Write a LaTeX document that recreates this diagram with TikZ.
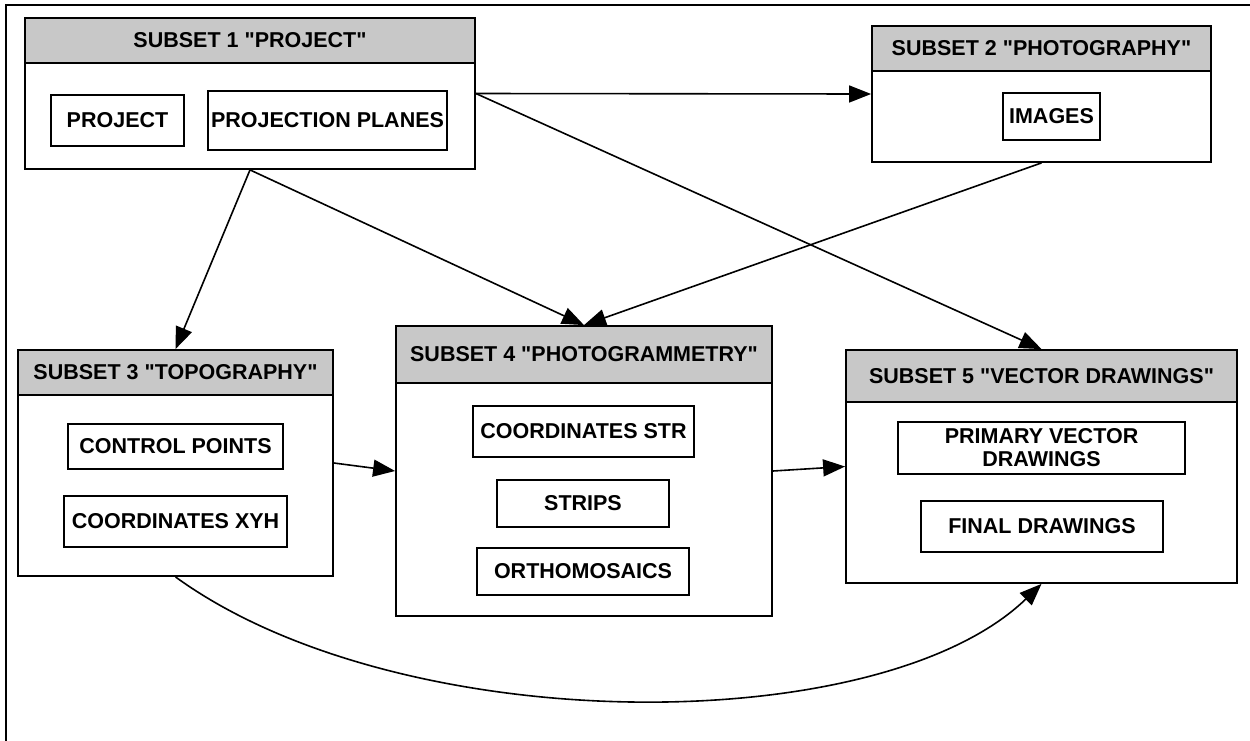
\documentclass[tikz,border=0pt]{standalone}
\usepackage{fontspec}
\setmainfont{Liberation Sans}[Ligatures=TeXOff]
\usetikzlibrary{arrows.meta}
\definecolor{headgray}{RGB}{200,200,200}
\newcommand{\qq}{\symbol{34}}
\begin{document}
\begin{tikzpicture}[x=1pt,y=-1pt,
  txt/.style={font=\fontsize{21.5}{23}\selectfont\bfseries},
  subset/.style={draw, line width=1.8pt, fill=white, inner sep=0pt},
  hdr/.style={draw, line width=1.8pt, fill=headgray, inner sep=0pt, txt},
  item/.style={draw, line width=1.8pt, fill=white, inner sep=0pt, align=center, txt},
  conn/.style={-{Triangle[length=22pt,width=17pt]}, line width=1.6pt}]
\useasboundingbox (0,0) rectangle (1250,740);
\draw[line width=2pt] (6,742) -- (6,5) -- (1252,5);

% subset 1
\node[subset, minimum width=450pt, minimum height=151pt] (s1) at (250,93.5) {};
\node[hdr, minimum width=450pt, minimum height=45pt] (h1) at (250,40.5) {SUBSET 1 \qq PROJECT\qq};
\node[item, minimum width=133pt, minimum height=51pt] (i11) at (117.5,120.5) {PROJECT};
\node[item, minimum width=239pt, minimum height=59pt] (i12) at (327.5,120.5) {PROJECTION PLANES};

% subset 2
\node[subset, minimum width=339pt, minimum height=136pt] (s2) at (1041.5,94) {};
\node[hdr, minimum width=339pt, minimum height=45pt] (h2) at (1041.5,48.5) {SUBSET 2 \qq PHOTOGRAPHY\qq};
\node[item, minimum width=97pt, minimum height=47pt] (i21) at (1051.5,116.5) {IMAGES};

% subset 3
\node[subset, minimum width=315pt, minimum height=226pt] (s3) at (175.5,463) {};
\node[hdr, minimum width=315pt, minimum height=45pt] (h3) at (175.5,372.5) {SUBSET 3 \qq TOPOGRAPHY\qq};
\node[item, minimum width=215pt, minimum height=45pt] (i31) at (175.5,446.5) {CONTROL POINTS};
\node[item, minimum width=223pt, minimum height=51pt] (i32) at (175.5,521.5) {COORDINATES XYH};

% subset 4
\node[subset, minimum width=376pt, minimum height=290pt] (s4) at (584,471) {};
\node[hdr, minimum width=376pt, minimum height=57pt] (h4) at (584,354.5) {SUBSET 4 \qq PHOTOGRAMMETRY\qq};
\node[item, minimum width=221pt, minimum height=51pt] (i41) at (583.5,431.5) {COORDINATES STR};
\node[item, minimum width=172pt, minimum height=47pt] (i42) at (583,503.5) {STRIPS};
\node[item, minimum width=212pt, minimum height=47pt] (i43) at (583,571.5) {ORTHOMOSAICS};

% subset 5
\node[subset, minimum width=391pt, minimum height=233pt] (s5) at (1041.5,466.5) {};
\node[hdr, minimum width=391pt, minimum height=52pt] (h5) at (1041.5,376) {SUBSET 5 \qq VECTOR DRAWINGS\qq};
\node[item, minimum width=287pt, minimum height=52pt] (i51) at (1041.5,448) {PRIMARY VECTOR\\DRAWINGS};
\node[item, minimum width=242pt, minimum height=51pt] (i52) at (1042,526.5) {FINAL DRAWINGS};

% connectors
\draw[conn] (s1.east) -- (s2.west);
\draw[conn] (s1.east) -- (s5.north);
\draw[conn] (s1.south) -- (s3.north);
\draw[conn] (s1.south) -- (s4.north);
\draw[conn] (s2.south) -- (s4.north);
\draw[conn] (s3.east) -- (s4.west);
\draw[conn] (s4.east) -- (s5.west);
\draw[conn] (s3.south) .. controls (400,740) and (880,740) .. (s5.south);
\end{tikzpicture}
\end{document}
